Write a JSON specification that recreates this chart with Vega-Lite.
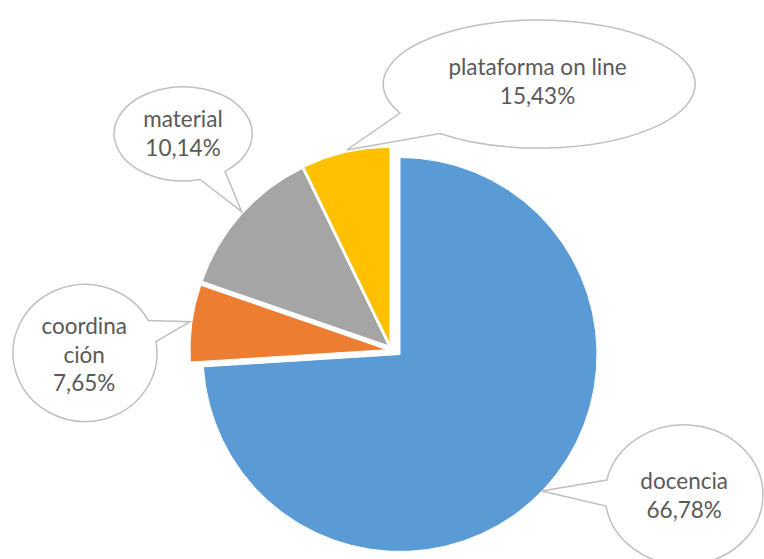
{
  "$schema": "https://vega.github.io/schema/vega-lite/v6.json",
  "width": 764,
  "height": 559,
  "autosize": "none",
  "padding": 0,
  "background": "#ffffff",
  "config": {"view": {"stroke": null}},
  "datasets": {
    "porciones": [
      {"categoria": "docencia", "orden": 1, "valor": 74.0, "rotulo": "docencia\n66,78%"},
      {"categoria": "coordinación", "orden": 2, "valor": 6.3, "rotulo": "coordina\nción\n7,65%"},
      {"categoria": "material", "orden": 3, "valor": 12.5, "rotulo": "material\n10,14%"},
      {"categoria": "plataforma on line", "orden": 4, "valor": 7.2, "rotulo": "plataforma on line\n15,43%"}
    ]
  },
  "data": {"name": "porciones"},
  "layer": [
    {
      "transform": [
        {"stack": "valor", "groupby": [], "sort": [{"field": "orden"}], "as": ["t0", "t1"]},
        {"filter": "datum.categoria === 'docencia'"}
      ],
      "mark": {"type": "arc", "outerRadius": 197, "fill": "#5B9BD5", "stroke": "#ffffff", "strokeWidth": 1},
      "encoding": {
        "theta": {"field": "t0", "type": "quantitative", "scale": {"domain": [0, 100]}},
        "theta2": {"field": "t1"},
        "x": {"datum": 0, "type": "quantitative", "scale": {"domain": [-400, 364], "nice": false, "zero": false}, "axis": null},
        "y": {"datum": 0, "type": "quantitative", "scale": {"domain": [-204.5, 354.5], "nice": false, "zero": false}, "axis": null}
      }
    },
    {
      "transform": [
        {"stack": "valor", "groupby": [], "sort": [{"field": "orden"}], "as": ["t0", "t1"]},
        {"filter": "datum.categoria === 'coordinación'"}
      ],
      "mark": {"type": "arc", "outerRadius": 197, "fill": "#ED7D31", "stroke": "#ffffff", "strokeWidth": 1},
      "encoding": {
        "theta": {"field": "t0", "type": "quantitative", "scale": {"domain": [0, 100]}},
        "theta2": {"field": "t1"},
        "x": {"datum": -13, "type": "quantitative", "scale": {"domain": [-400, 364], "nice": false, "zero": false}, "axis": null},
        "y": {"datum": 4.8, "type": "quantitative", "scale": {"domain": [-204.5, 354.5], "nice": false, "zero": false}, "axis": null}
      }
    },
    {
      "transform": [
        {"stack": "valor", "groupby": [], "sort": [{"field": "orden"}], "as": ["t0", "t1"]},
        {"filter": "datum.categoria === 'material'"}
      ],
      "mark": {"type": "arc", "outerRadius": 197, "fill": "#A5A5A5", "stroke": "#ffffff", "strokeWidth": 1},
      "encoding": {
        "theta": {"field": "t0", "type": "quantitative", "scale": {"domain": [0, 100]}},
        "theta2": {"field": "t1"},
        "x": {"datum": -11.6, "type": "quantitative", "scale": {"domain": [-400, 364], "nice": false, "zero": false}, "axis": null},
        "y": {"datum": 8.8, "type": "quantitative", "scale": {"domain": [-204.5, 354.5], "nice": false, "zero": false}, "axis": null}
      }
    },
    {
      "transform": [
        {"stack": "valor", "groupby": [], "sort": [{"field": "orden"}], "as": ["t0", "t1"]},
        {"filter": "datum.categoria === 'plataforma on line'"}
      ],
      "mark": {"type": "arc", "outerRadius": 197, "fill": "#FFC000", "stroke": "#ffffff", "strokeWidth": 1},
      "encoding": {
        "theta": {"field": "t0", "type": "quantitative", "scale": {"domain": [0, 100]}},
        "theta2": {"field": "t1"},
        "x": {"datum": -10, "type": "quantitative", "scale": {"domain": [-400, 364], "nice": false, "zero": false}, "axis": null},
        "y": {"datum": 10.2, "type": "quantitative", "scale": {"domain": [-204.5, 354.5], "nice": false, "zero": false}, "axis": null}
      }
    },
    {
      "transform": [{"filter": "datum.categoria === 'plataforma on line'"}],
      "encoding": {
        "x": {"datum": 139, "type": "quantitative", "scale": {"domain": [-400, 364], "nice": false, "zero": false}, "axis": null},
        "y": {"datum": 270.5, "type": "quantitative", "scale": {"domain": [-204.5, 354.5], "nice": false, "zero": false}, "axis": null}
      },
      "layer": [
        {"mark": {"type": "point", "shape": "M -139 29 A 156 64 0 1 1 -99 49.5 L -192.3 66 Z", "size": 4, "filled": true, "fill": "#ffffff", "fillOpacity": 1, "stroke": "#bfbfbf", "strokeWidth": 1.5, "opacity": 1}},
        {
          "mark": {"type": "text", "font": "Lato", "fontSize": 22.5, "fill": "#595959", "lineBreak": "\n", "lineHeight": 29, "align": "center", "baseline": "alphabetic"},
          "encoding": {
            "text": {"field": "rotulo"},
            "x": {"datum": 137.5, "type": "quantitative", "scale": {"domain": [-400, 364], "nice": false, "zero": false}, "axis": null},
            "y": {"datum": 279.5, "type": "quantitative", "scale": {"domain": [-204.5, 354.5], "nice": false, "zero": false}, "axis": null}
          }
        }
      ]
    },
    {
      "transform": [{"filter": "datum.categoria === 'material'"}],
      "encoding": {
        "x": {"datum": -217, "type": "quantitative", "scale": {"domain": [-400, 364], "nice": false, "zero": false}, "axis": null},
        "y": {"datum": 220.5, "type": "quantitative", "scale": {"domain": [-204.5, 354.5], "nice": false, "zero": false}, "axis": null}
      },
      "layer": [
        {"mark": {"type": "point", "shape": "M 42 37.3 A 69 47 0 1 0 17 45.5 L 58.7 77.7 Z", "size": 4, "filled": true, "fill": "#ffffff", "fillOpacity": 1, "stroke": "#bfbfbf", "strokeWidth": 1.5, "opacity": 1}},
        {
          "mark": {"type": "text", "font": "Lato", "fontSize": 22.5, "fill": "#595959", "lineBreak": "\n", "lineHeight": 29, "align": "center", "baseline": "alphabetic"},
          "encoding": {
            "text": {"field": "rotulo"},
            "x": {"datum": -217, "type": "quantitative", "scale": {"domain": [-400, 364], "nice": false, "zero": false}, "axis": null},
            "y": {"datum": 227.5, "type": "quantitative", "scale": {"domain": [-204.5, 354.5], "nice": false, "zero": false}, "axis": null}
          }
        }
      ]
    },
    {
      "transform": [{"filter": "datum.categoria === 'coordinación'"}],
      "encoding": {
        "x": {"datum": -315, "type": "quantitative", "scale": {"domain": [-400, 364], "nice": false, "zero": false}, "axis": null},
        "y": {"datum": 1.5, "type": "quantitative", "scale": {"domain": [-204.5, 354.5], "nice": false, "zero": false}, "axis": null}
      },
      "layer": [
        {"mark": {"type": "point", "shape": "M 63.3 -32.6 A 72 68.5 0 1 0 71 -11.3 L 105 -31.3 Z", "size": 4, "filled": true, "fill": "#ffffff", "fillOpacity": 1, "stroke": "#bfbfbf", "strokeWidth": 1.5, "opacity": 1}},
        {
          "mark": {"type": "text", "font": "Lato", "fontSize": 22.5, "fill": "#595959", "lineBreak": "\n", "lineHeight": 28.5, "align": "center", "baseline": "alphabetic"},
          "encoding": {
            "text": {"field": "rotulo"},
            "x": {"datum": -315.8, "type": "quantitative", "scale": {"domain": [-400, 364], "nice": false, "zero": false}, "axis": null},
            "y": {"datum": 20.5, "type": "quantitative", "scale": {"domain": [-204.5, 354.5], "nice": false, "zero": false}, "axis": null}
          }
        }
      ]
    },
    {
      "transform": [{"filter": "datum.categoria === 'docencia'"}],
      "encoding": {
        "x": {"datum": 284, "type": "quantitative", "scale": {"domain": [-400, 364], "nice": false, "zero": false}, "axis": null},
        "y": {"datum": -140.5, "type": "quantitative", "scale": {"domain": [-204.5, 354.5], "nice": false, "zero": false}, "axis": null}
      },
      "layer": [
        {"mark": {"type": "point", "shape": "M -77.2 -15 A 79 70 0 1 1 -78 11 L -142.3 -4 Z", "size": 4, "filled": true, "fill": "#ffffff", "fillOpacity": 1, "stroke": "#bfbfbf", "strokeWidth": 1.5, "opacity": 1}},
        {
          "mark": {"type": "text", "font": "Lato", "fontSize": 22.5, "fill": "#595959", "lineBreak": "\n", "lineHeight": 29, "align": "center", "baseline": "alphabetic"},
          "encoding": {
            "text": {"field": "rotulo"},
            "x": {"datum": 284.2, "type": "quantitative", "scale": {"domain": [-400, 364], "nice": false, "zero": false}, "axis": null},
            "y": {"datum": -134, "type": "quantitative", "scale": {"domain": [-204.5, 354.5], "nice": false, "zero": false}, "axis": null}
          }
        }
      ]
    }
  ]
}
